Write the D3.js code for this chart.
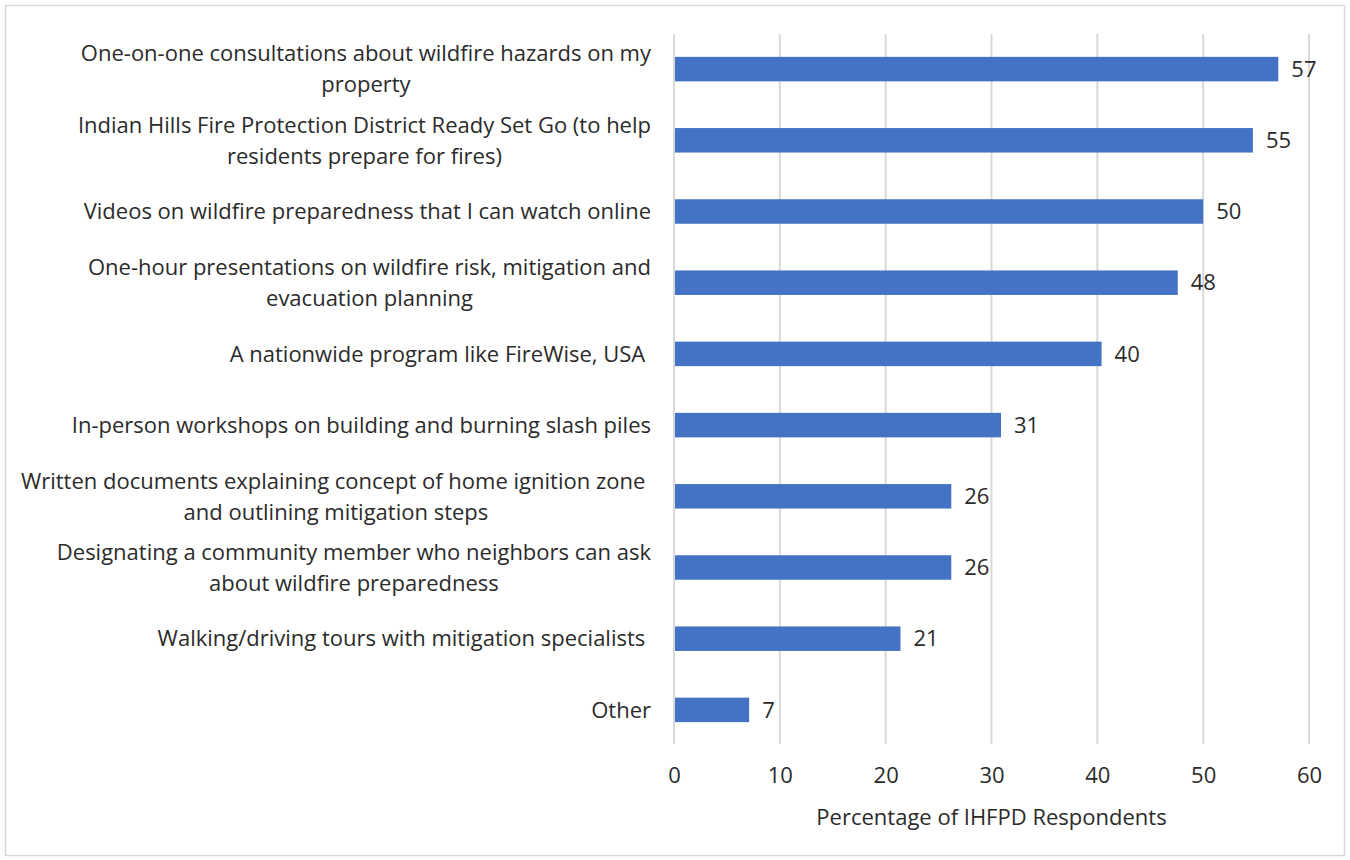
<!DOCTYPE html>
<html><head><meta charset="utf-8">
<script src="https://cdn.jsdelivr.net/npm/d3@7"></script>
<style>body{margin:0;background:#fff}text{white-space:pre}</style>
</head><body>
<svg id="c" width="1350" height="860"></svg>
<script>
const categories = [
  ["One-on-one consultations about wildfire hazards on my", "property"],
  ["Indian Hills Fire Protection District Ready Set Go (to help", "residents prepare for fires)"],
  ["Videos on wildfire preparedness that I can watch online"],
  ["One-hour presentations on wildfire risk, mitigation and", "evacuation planning"],
  ["A nationwide program like FireWise, USA "],
  ["In-person workshops on building and burning slash piles"],
  ["Written documents explaining concept of home ignition zone ", "and outlining mitigation steps"],
  ["Designating a community member who neighbors can ask", "about wildfire preparedness"],
  ["Walking/driving tours with mitigation specialists "],
  ["Other"]
];
const values = [57.1, 54.7, 50.0, 47.6, 40.4, 30.9, 26.2, 26.2, 21.4, 7.1];
const xTicks = [0, 10, 20, 30, 40, 50, 60];
const xTitle = "Percentage of IHFPD Respondents";

const svg = d3.select("#c");
const font = "'Open Sans', sans-serif";
const fs = 22;
const textColor = "#2b2b2b";

svg.append("rect").attr("x",5.5).attr("y",5.5).attr("width",1339).attr("height",850)
  .attr("fill","#fff").attr("stroke","#d9d9d9").attr("stroke-width",1.5);

const x = d3.scaleLinear().domain([0,60]).range([674,1309]);
const y = d3.scaleBand().domain(d3.range(categories.length)).range([33.5,745.5]).paddingInner(0.656).paddingOuter(0.328);

svg.append("g").selectAll("line").data(xTicks).join("line")
  .attr("x1",d=>x(d)).attr("x2",d=>x(d)).attr("y1",34).attr("y2",744)
  .attr("stroke","#d9d9d9").attr("stroke-width",2);

svg.append("g").selectAll("rect").data(values).join("rect")
  .attr("x",x(0)+1).attr("y",(d,i)=>y(i)).attr("width",d=>x(d)-x(0)-1).attr("height",y.bandwidth())
  .attr("fill","#4472c4");

svg.append("g").selectAll("text").data(values).join("text")
  .attr("x",d=>x(d)+13).attr("y",(d,i)=>y(i)+y.bandwidth()/2).attr("dy","0.35em")
  .attr("font-family",font).attr("font-size",fs).attr("fill",textColor)
  .text(d=>Math.round(d));

const xAxis = d3.axisBottom(x).tickValues(xTicks).tickSize(0).tickPadding(0);
const gx = svg.append("g").attr("transform","translate(0,767)").call(xAxis);
gx.select(".domain").remove();
gx.selectAll("text").attr("font-family",font).attr("font-size",fs).attr("fill",textColor).attr("dy","0.71em");

svg.append("text").attr("x",(x(0)+x(60))/2).attr("y",817).attr("dy","0.35em")
  .attr("text-anchor","middle").attr("font-family",font).attr("font-size",fs).attr("fill",textColor)
  .text(xTitle);

const right = 651, lh = 31;
categories.forEach((lines,i)=>{
  const cy = y(i)+y.bandwidth()/2;
  const g = svg.append("g");
  const ts = lines.map((l,k)=>g.append("text").attr("font-family",font).attr("font-size",fs)
    .attr("fill",textColor).attr("text-anchor","middle").attr("dy","0.35em")
    .attr("y", cy + (k-(lines.length-1)/2)*lh).text(l));
  const w = d3.max(ts, t=>t.node().getComputedTextLength());
  ts.forEach(t=>t.attr("x", right - w/2));
});
</script>
</body></html>
